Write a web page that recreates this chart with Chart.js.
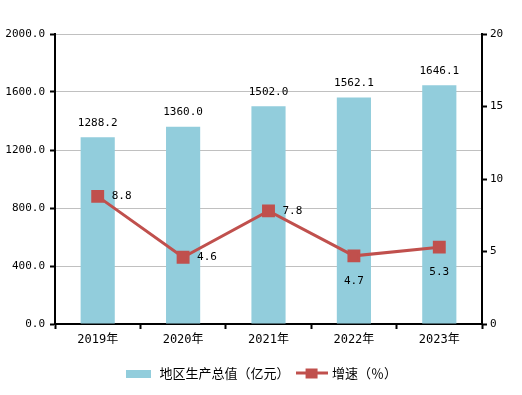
<!DOCTYPE html>
<html>
<head>
<meta charset="utf-8">
<script src="https://cdn.jsdelivr.net/npm/chart.js@4.4.0/dist/chart.umd.min.js"></script>
<style>
  html, body { margin: 0; padding: 0; background: #fff; }
  #wrap { width: 522px; height: 395px; }
</style>
</head>
<body>
<div id="wrap"><canvas id="gdpChart"></canvas></div>
<script>
// data
const years = ['2019年', '2020年', '2021年', '2022年', '2023年'];
const gdpValues = [1288.2, 1360.0, 1502.0, 1562.1, 1646.1];
const growthValues = [8.8, 4.6, 7.8, 4.7, 5.3];
const gdpLabel = '地区生产总值（亿元）';
const growthLabel = '增速（％）';

// where each growth label sits relative to its point
const growthLabelPos = ['right', 'right', 'right', 'below', 'below'];

const barColor = '#92CDDC';
const lineColor = '#C0504D';
const numFont = '"DejaVu Sans Mono", "Noto Sans CJK SC", monospace';

Chart.defaults.font.family = numFont;
Chart.defaults.font.size = 11;
Chart.defaults.color = '#000';

// legend swatches
function barSwatch() {
    const c = document.createElement('canvas');
    c.width = 25; c.height = 8;
    const g = c.getContext('2d');
    g.fillStyle = barColor;
    g.fillRect(0, 0, 25, 8);
    return c;
}
function lineSwatch() {
    const c = document.createElement('canvas');
    c.width = 32; c.height = 12;
    const g = c.getContext('2d');
    g.fillStyle = lineColor;
    g.fillRect(0, 4, 32, 3);
    g.fillRect(10, 1, 12, 10);
    return c;
}

const valueLabels = {
    id: 'valueLabels',
    afterDatasetsDraw(chart) {
        const ctx = chart.ctx;
        ctx.save();
        ctx.font = '11px ' + numFont;
        ctx.fillStyle = '#000';
        // bar values above bars
        chart.getDatasetMeta(0).data.forEach((bar, i) => {
            ctx.textAlign = 'center';
            ctx.textBaseline = 'bottom';
            ctx.fillText(gdpValues[i].toFixed(1), bar.x, bar.y - 9);
        });
        // growth values next to points
        chart.getDatasetMeta(1).data.forEach((pt, i) => {
            ctx.textBaseline = 'middle';
            if (growthLabelPos[i] === 'right') {
                ctx.textAlign = 'left';
                ctx.fillText(growthValues[i].toFixed(1), pt.x + 14, pt.y);
            } else {
                ctx.textAlign = 'center';
                ctx.fillText(growthValues[i].toFixed(1), pt.x, pt.y + 25);
            }
        });
        ctx.restore();
    }
};

const ctx = document.getElementById('gdpChart').getContext('2d');
new Chart(ctx, {
    data: {
        labels: years,
        datasets: [{
            type: 'bar',
            label: gdpLabel,
            data: gdpValues,
            backgroundColor: barColor,
            barPercentage: 0.4,
            categoryPercentage: 1,
            yAxisID: 'y',
            order: 2
        }, {
            type: 'line',
            label: growthLabel,
            data: growthValues,
            borderColor: lineColor,
            backgroundColor: lineColor,
            borderWidth: 3,
            pointStyle: 'rect',
            pointRadius: 7,
            pointHoverRadius: 7,
            tension: 0,
            yAxisID: 'y1',
            order: 1
        }]
    },
    options: {
        responsive: true,
        maintainAspectRatio: false,
        animation: false,
        layout: { padding: { top: 34, bottom: 5, left: 0, right: 0 } },
        plugins: {
            tooltip: { enabled: false },
            legend: {
                position: 'bottom',
                labels: {
                    usePointStyle: true,
                    padding: 8,
                    font: { size: 13, family: '"Noto Sans CJK SC", sans-serif' },
                    generateLabels: function (chart) {
                        return [
                            { text: gdpLabel, pointStyle: barSwatch(), datasetIndex: 0, fillStyle: barColor, strokeStyle: barColor, lineWidth: 0 },
                            { text: growthLabel, pointStyle: lineSwatch(), datasetIndex: 1, fillStyle: lineColor, strokeStyle: lineColor, lineWidth: 0 }
                        ];
                    },
                    pointStyleWidth: 28
                }
            }
        },
        scales: {
            x: {
                offset: true,
                grid: {
                    offset: true,
                    drawOnChartArea: false,
                    drawTicks: true,
                    tickLength: 5,
                    tickColor: '#000',
                    tickWidth: 2
                },
                border: { color: '#000', width: 2 },
                ticks: { padding: 4, font: { size: 12 } },
                afterFit: function (scale) { scale.height = 35; }
            },
            y: {
                position: 'left',
                min: 0,
                max: 2000,
                ticks: {
                    stepSize: 400,
                    padding: 5,
                    callback: v => v.toFixed(1)
                },
                grid: {
                    color: '#C0C0C0',
                    tickColor: '#000',
                    tickLength: 5,
                    tickWidth: 2
                },
                border: { color: '#000', width: 2 },
                afterFit: function (scale) { scale.width = 55; }
            },
            y1: {
                position: 'right',
                min: 0,
                max: 20,
                ticks: { stepSize: 5, padding: 3 },
                grid: {
                    drawOnChartArea: false,
                    tickColor: '#000',
                    tickLength: 5,
                    tickWidth: 2
                },
                border: { color: '#000', width: 2 },
                afterFit: function (scale) { scale.width = 40; }
            }
        }
    },
    plugins: [valueLabels]
});
</script>
</body>
</html>
